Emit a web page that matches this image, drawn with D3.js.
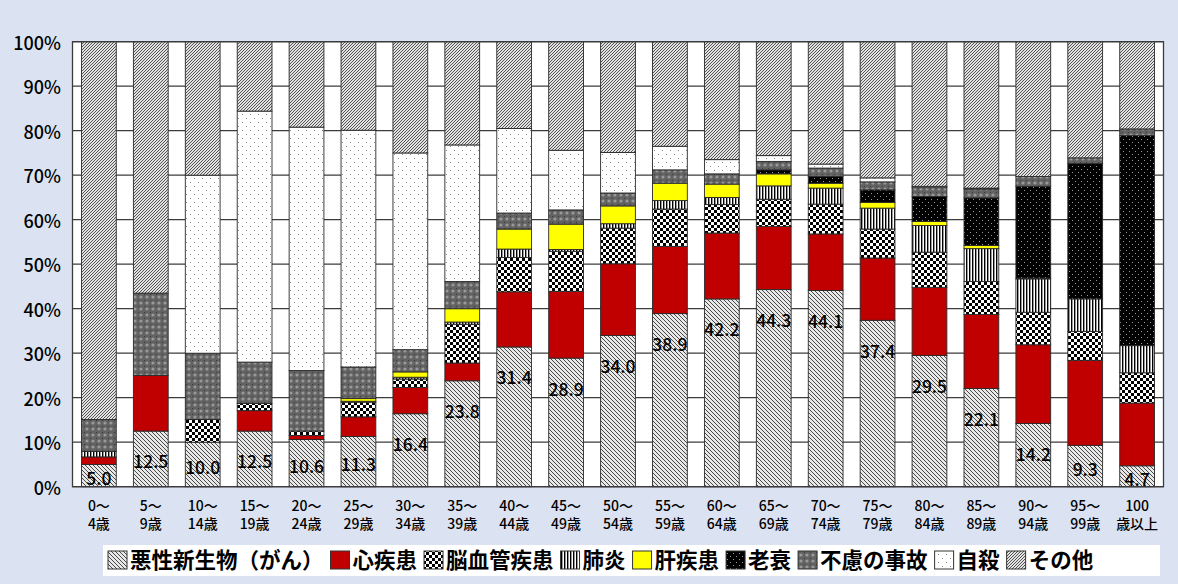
<!DOCTYPE html>
<html lang="ja">
<head>
<meta charset="UTF-8">
<title>年齢階級別 死因構成割合</title>
<script src="https://d3js.org/d3.v7.min.js"></script>
<style>
  body { margin: 0; background: #dbe3f2; }
  svg { display: block; }
  text { font-family: "Noto Sans CJK JP", "Noto Sans", sans-serif; fill: #000; }
</style>
</head>
<body>
<svg width="1178" height="584"></svg>
<script>
// 年齢階級（2行ラベル）
const ageFrom = ["0～", "5～", "10～", "15～", "20～", "25～", "30～", "35～", "40～", "45～", "50～",
                 "55～", "60～", "65～", "70～", "75～", "80～", "85～", "90～", "95～", "100"];
const ageTo   = ["4歳", "9歳", "14歳", "19歳", "24歳", "29歳", "34歳", "39歳", "44歳", "49歳", "54歳",
                 "59歳", "64歳", "69歳", "74歳", "79歳", "84歳", "89歳", "94歳", "99歳", "歳以上"];

// 死因別の割合（%）、下から積み上げ順
const cancer     = [5.0, 12.5, 10.0, 12.5, 10.6, 11.3, 16.4, 23.8, 31.4, 28.9, 34.0, 38.9, 42.2, 44.3, 44.1, 37.4, 29.5, 22.1, 14.2, 9.3, 4.7];
const heart      = [1.7, 12.5, 0.0, 4.6, 0.9, 4.4, 5.9, 4.0, 12.4, 15.0, 16.1, 15.1, 14.8, 14.2, 12.7, 14.0, 15.3, 16.6, 17.7, 19.1, 14.1];
const cerebro    = [0.0, 0.0, 5.1, 1.6, 1.0, 3.3, 1.9, 8.7, 7.7, 9.0, 8.0, 8.4, 6.4, 6.1, 6.7, 6.5, 7.9, 7.4, 7.3, 6.5, 6.8];
const pneumonia  = [1.2, 0.0, 0.0, 0.0, 0.0, 0.2, 0.4, 0.5, 1.9, 0.4, 1.0, 1.9, 1.6, 3.0, 3.6, 4.7, 6.0, 7.4, 7.5, 7.3, 6.1];
const liver      = [0.0, 0.0, 0.0, 0.0, 0.0, 0.6, 1.2, 3.0, 4.5, 5.7, 4.0, 3.9, 3.0, 2.7, 1.1, 1.3, 0.9, 0.7, 0.2, 0.0, 0.0];
const senility   = [0.0, 0.0, 0.0, 0.0, 0.0, 0.0, 0.0, 0.0, 0.0, 0.0, 0.0, 0.0, 0.0, 0.9, 1.5, 2.8, 5.6, 10.7, 20.6, 30.4, 47.2];
const accident   = [7.2, 18.5, 14.9, 9.3, 13.6, 7.1, 5.0, 6.1, 3.6, 3.2, 2.9, 3.0, 2.3, 1.9, 1.9, 1.8, 2.0, 2.0, 2.2, 1.3, 1.5];
const suicide    = [0.0, 0.0, 40.0, 56.4, 54.7, 53.2, 44.2, 30.7, 19.0, 13.4, 9.1, 5.3, 3.2, 1.3, 0.9, 0.9, 0.3, 0.2, 0.0, 0.0, 0.0];
const other      = [84.9, 56.5, 30.0, 15.6, 19.2, 19.9, 25.0, 23.2, 19.5, 24.4, 24.9, 23.5, 26.5, 25.6, 27.5, 30.6, 32.5, 32.9, 30.3, 26.1, 19.6];

const causeNames = ["悪性新生物（がん）", "心疾患", "脳血管疾患", "肺炎", "肝疾患", "老衰", "不慮の事故", "自殺", "その他"];
const causeKeys  = ["cancer", "heart", "cerebro", "pneumonia", "liver", "senility", "accident", "suicide", "other"];
const yTicks     = [0, 10, 20, 30, 40, 50, 60, 70, 80, 90, 100];

const series = [cancer, heart, cerebro, pneumonia, liver, senility, accident, suicide, other];
const table = ageFrom.map((a, i) => {
  const row = { age: i };
  causeKeys.forEach((k, j) => row[k] = series[j][i]);
  return row;
});

const svg = d3.select("svg");
const margin = { left: 72.5, right: 1163.5, top: 41.7, bottom: 486.7 };

// 模様
const defs = svg.append("defs");
function pat(id, w, h, draw) {
  const p = defs.append("pattern").attr("id", id)
    .attr("patternUnits", "userSpaceOnUse").attr("width", w).attr("height", h);
  draw(p);
}
pat("p-cancer", 4, 4, p => {
  p.append("rect").attr("width", 4).attr("height", 4).attr("fill", "#e8e8e8");
  p.append("path").attr("d", "M0,0L4,4M-1,3L1,5M3,-1L5,1").attr("stroke", "#404040").attr("stroke-width", 0.95);
});
pat("p-heart", 4, 4, p => p.append("rect").attr("width", 4).attr("height", 4).attr("fill", "#c00000"));
pat("p-cerebro", 6, 6, p => {
  p.append("rect").attr("width", 6).attr("height", 6).attr("fill", "#fff");
  p.append("rect").attr("width", 3).attr("height", 3).attr("fill", "#000");
  p.append("rect").attr("x", 3).attr("y", 3).attr("width", 3).attr("height", 3).attr("fill", "#000");
});
pat("p-pneumonia", 3, 3, p => {
  p.append("rect").attr("width", 3).attr("height", 3).attr("fill", "#fff");
  p.append("rect").attr("width", 1.4).attr("height", 3).attr("fill", "#000");
});
pat("p-liver", 4, 4, p => p.append("rect").attr("width", 4).attr("height", 4).attr("fill", "#ffff00"));
pat("p-senility", 6, 6, p => {
  p.append("rect").attr("width", 6).attr("height", 6).attr("fill", "#000");
  p.append("rect").attr("x", 1).attr("y", 1).attr("width", 1).attr("height", 1).attr("fill", "#9a9a9a");
  p.append("rect").attr("x", 4).attr("y", 4).attr("width", 1).attr("height", 1).attr("fill", "#9a9a9a");
});
pat("p-accident", 6, 6, p => {
  p.append("rect").attr("width", 6).attr("height", 6).attr("fill", "#626262");
  p.append("circle").attr("cx", 3).attr("cy", 3).attr("r", 1.6).attr("fill", "#999");
  p.append("rect").attr("width", 1).attr("height", 1).attr("fill", "#3a3a3a");
});
pat("p-suicide", 8, 8, p => {
  p.append("rect").attr("width", 8).attr("height", 8).attr("fill", "#fff");
  p.append("rect").attr("x", 2).attr("y", 2).attr("width", 1).attr("height", 1).attr("fill", "#888");
  p.append("rect").attr("x", 6).attr("y", 6).attr("width", 1).attr("height", 1).attr("fill", "#888");
});
pat("p-other", 3, 3, p => {
  p.append("rect").attr("width", 3).attr("height", 3).attr("fill", "#e2e2e2");
  p.append("path").attr("d", "M0,3L3,0M-1,1L1,-1M2,4L4,2").attr("stroke", "#444").attr("stroke-width", 0.9);
});

const x = d3.scaleBand().domain(d3.range(ageFrom.length))
  .range([margin.left, margin.right]).paddingInner(0.33).paddingOuter(0.173);
const y = d3.scaleLinear().domain([0, 100]).range([margin.bottom, margin.top]);

// 描画領域
svg.append("rect").attr("x", margin.left).attr("y", margin.top)
  .attr("width", margin.right - margin.left).attr("height", margin.bottom - margin.top)
  .attr("fill", "#fff");

svg.append("g").selectAll("line").data(yTicks).join("line")
  .attr("x1", margin.left).attr("x2", margin.right)
  .attr("y1", d => y(d)).attr("y2", d => y(d))
  .attr("stroke", "#3c3c3c").attr("stroke-width", 1.3);

// 積み上げ棒
const stacked = d3.stack().keys(causeKeys)(table);
svg.append("g").selectAll("g").data(stacked).join("g")
  .attr("fill", d => `url(#p-${d.key})`)
  .selectAll("rect").data(d => d.filter(s => s[1] - s[0] > 0)).join("rect")
  .attr("x", d => x(d.data.age))
  .attr("width", x.bandwidth())
  .attr("y", d => y(d[1]))
  .attr("height", d => y(d[0]) - y(d[1]))
  .attr("stroke", "#2a2a2a").attr("stroke-width", 0.9);

// がんの割合ラベル
svg.append("g").selectAll("text").data(stacked[0]).join("text")
  .attr("x", d => x(d.data.age) + x.bandwidth() / 2)
  .attr("y", d => Math.min(y(d[1]) + 30, (y(d[0]) + y(d[1])) / 2 + 2))
  .attr("text-anchor", "middle").attr("dominant-baseline", "central")
  .attr("font-size", 17.5).attr("font-weight", 500)
  .text(d => d.data.cancer.toFixed(1));

// 枠
svg.append("rect").attr("x", margin.left).attr("y", margin.top)
  .attr("width", margin.right - margin.left).attr("height", margin.bottom - margin.top)
  .attr("fill", "none").attr("stroke", "#3c3c3c").attr("stroke-width", 1.3);

// Y軸ラベル
svg.append("g").selectAll("text").data(yTicks).join("text")
  .attr("x", 61).attr("y", d => y(d))
  .attr("text-anchor", "end").attr("dominant-baseline", "central")
  .attr("font-size", 18).attr("font-weight", 500)
  .text(d => d + "%");

// X軸ラベル
const xl = svg.append("g").selectAll("text").data(ageFrom).join("text")
  .attr("x", (d, i) => x(i) + x.bandwidth() / 2)
  .attr("text-anchor", "middle").attr("font-size", 14).attr("font-weight", 500);
xl.append("tspan").attr("x", (d, i) => x(i) + x.bandwidth() / 2).attr("y", 511).text(d => d);
xl.append("tspan").attr("x", (d, i) => x(i) + x.bandwidth() / 2).attr("y", 529).text((d, i) => ageTo[i]);

// 凡例
const lg = svg.append("g");
lg.append("rect").attr("x", 103).attr("y", 545).attr("width", 1057).attr("height", 31).attr("fill", "#fff");
let cx = 108;
causeKeys.forEach((k, i) => {
  lg.append("rect").attr("x", cx).attr("y", 551).attr("width", 19).attr("height", 18)
    .attr("fill", `url(#p-${k})`).attr("stroke", "#333").attr("stroke-width", 1);
  const t = lg.append("text").attr("x", cx + 22).attr("y", 568)
    .attr("font-size", 21.5).attr("font-weight", 700).text(causeNames[i]);
  cx += 22 + t.node().getComputedTextLength() + 7;
});
</script>
</body>
</html>
